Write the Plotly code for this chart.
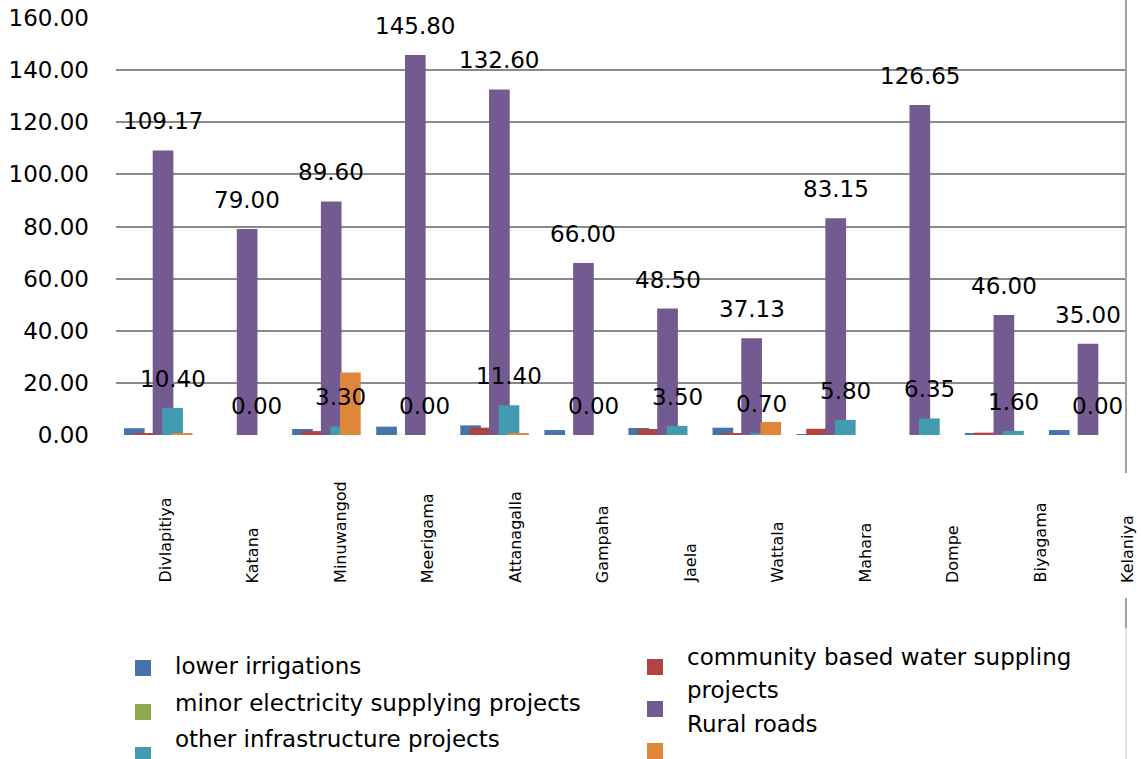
import plotly.graph_objects as go

# ---------------- data ----------------
districts = ["Divlapitiya", "Katana", "Minuwangod", "Meerigama", "Attanagalla", "Gampaha",
             "Jaela", "Wattala", "Mahara", "Dompe", "Biyagama", "Kelaniya"]

lower_irrigations = [2.6, 0.0, 2.3, 3.2, 3.7, 1.9, 2.7, 2.8, 0.3, 0.0, 0.4, 1.9]
community_water = [0.4, 0.0, 1.5, 0.0, 2.8, 0.0, 2.3, 0.4, 2.4, 0.0, 0.9, 0.0]
minor_electricity = [0.0, 0.0, 0.0, 0.0, 0.0, 0.0, 0.0, 0.0, 0.0, 0.0, 0.0, 0.0]
rural_roads = [109.17, 79.00, 89.60, 145.80, 132.60, 66.00, 48.50, 37.13, 83.15, 126.65, 46.00, 35.00]
other_infrastructure = [10.40, 0.00, 3.30, 0.00, 11.40, 0.00, 3.50, 0.70, 5.80, 6.35, 1.60, 0.00]
unnamed_series = [0.4, 0.0, 24.0, 0.0, 0.4, 0.0, 0.0, 5.0, 0.0, 0.0, 0.0, 0.0]

series_names = ["lower irrigations", "community based water suppling projects",
                "minor electricity supplying projects", "Rural roads",
                "other infrastructure projects", ""]
series_values = [lower_irrigations, community_water, minor_electricity,
                 rural_roads, other_infrastructure, unnamed_series]
labelled_series = [3, 4]  # series whose values are printed above the bars

y_ticks = [0, 20, 40, 60, 80, 100, 120, 140, 160]

# ---------------- style ----------------
colors = ["#4674AA", "#AE4541", "#8DA94F", "#735A91", "#439BB2", "#DF863B"]
FONT = "DejaVu Sans"
W, H = 1141, 759
PL, PR, PT, PB = 116, 1125, 18, 435  # plot area in pixels
BAR_W = 0.246
BAR_STEP = 0.114
BAR_START = -0.4055
GRID = "#8A8A8A"


def px_x(px):
    return (px - PL) / (PR - PL)


def px_y(py):
    return (PB - py) / (PB - PT)


fig = go.Figure()
for k, (name, vals) in enumerate(zip(series_names, series_values)):
    fig.add_trace(go.Bar(
        x=districts, y=vals, name=name,
        width=BAR_W, offset=BAR_START + k * BAR_STEP,
        marker=dict(color=colors[k], line=dict(width=0)),
        showlegend=False,
    ))

annotations = []
# data labels
for k in labelled_series:
    centre = BAR_START + k * BAR_STEP + BAR_W / 2
    for i, v in enumerate(series_values[k]):
        annotations.append(dict(
            x=i + centre, y=v, xref="x", yref="y", text=f"{v:.2f}",
            showarrow=False, yshift=29, yanchor="middle", xanchor="center",
            font=dict(family=FONT, size=23, color="black"),
        ))

# category labels (rotated, bottom aligned)
LABEL_X0, LABEL_STEP = 165, 87.45
for i, d in enumerate(districts):
    annotations.append(dict(
        x=px_x(LABEL_X0 + i * LABEL_STEP), y=px_y(585), xref="paper", yref="paper",
        text=d, textangle=-90, showarrow=False, xanchor="center", yanchor="bottom",
        font=dict(family=FONT, size=16, color="black"),
    ))

# custom legend
shapes = []
legend_items = [
    # (series index, marker x, marker centre y, text lines [(text, centre y)])
    (0, 135, 668, [("lower irrigations", 666)]),
    (2, 135, 712, [("minor electricity supplying projects", 703)]),
    (4, 135, 755, [("other infrastructure projects", 739)]),
    (1, 647, 667, [("community based water suppling", 657), ("projects", 690)]),
    (3, 647, 709, [("Rural roads", 724)]),
    (5, 647, 751, []),
]
for k, mx, my, lines in legend_items:
    shapes.append(dict(type="rect", xref="paper", yref="paper",
                       x0=px_x(mx), x1=px_x(mx + 16), y0=px_y(my - 8), y1=px_y(my + 8),
                       fillcolor=colors[k], line=dict(width=0)))
    for txt, ty in lines:
        annotations.append(dict(
            x=px_x(mx + 38), y=px_y(ty), xref="paper", yref="paper", text=txt,
            showarrow=False, xanchor="left", yanchor="middle",
            font=dict(family=FONT, size=23, color="black"),
        ))

# right border line (interrupted around the last category label)
shapes.append(dict(type="line", xref="paper", yref="paper", x0=1.001, x1=1.001,
                   y0=px_y(0), y1=px_y(473), line=dict(color="#A0A0A0", width=2)))
shapes.append(dict(type="line", xref="paper", yref="paper", x0=1.001, x1=1.001,
                   y0=px_y(598), y1=px_y(628), line=dict(color="#A0A0A0", width=2)))
shapes.append(dict(type="line", xref="paper", yref="paper", x0=1.001, x1=1.001,
                   y0=px_y(628), y1=px_y(760), line=dict(color="#C8C8C8", width=1)))

fig.update_layout(
    width=W, height=H,
    margin=dict(l=PL, r=W - PR, t=PT, b=H - PB, pad=0, autoexpand=False),
    paper_bgcolor="white", plot_bgcolor="white",
    barmode="overlay",
    showlegend=False,
    font=dict(family=FONT, color="black"),
    xaxis=dict(type="category", range=[-0.5, len(districts) - 0.5],
               showticklabels=False, showgrid=False, zeroline=False, showline=False,
               ticks="", automargin=False),
    yaxis=dict(range=[0, 160], tickvals=y_ticks, tickformat=".2f",
               showgrid=True, gridcolor=GRID, gridwidth=2,
               zeroline=False, showline=False, ticks="", automargin=False,
               ticklabelstandoff=26,
               tickfont=dict(family=FONT, size=23, color="black")),
    annotations=annotations,
    shapes=shapes,
)

fig.write_html(
    "out.html",
    config={"displayModeBar": False},
    post_script="document.body.style.margin='0';document.body.style.overflow='hidden';",
)
